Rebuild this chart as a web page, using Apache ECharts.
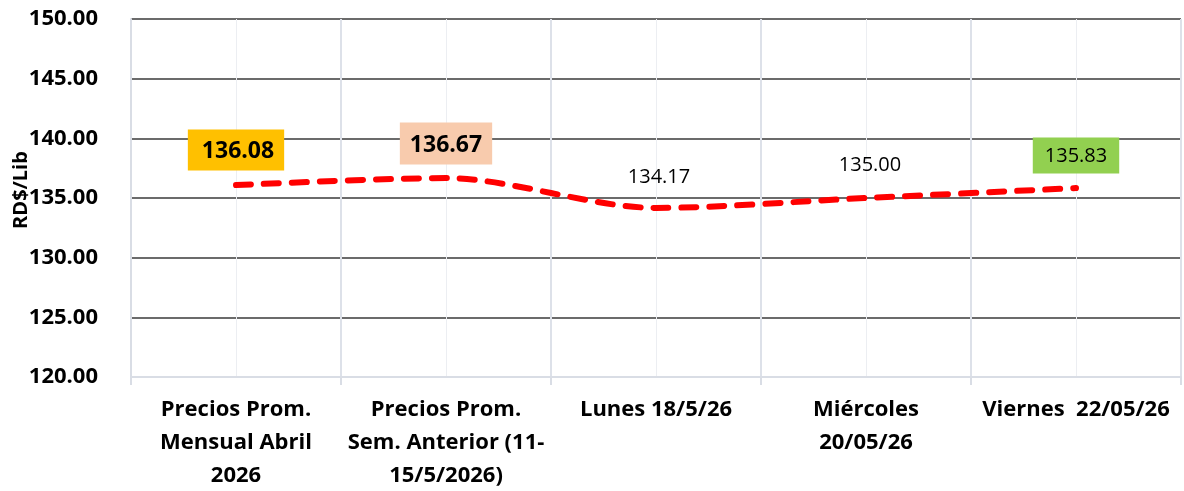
<!DOCTYPE html>
<html><head><meta charset="utf-8">
<script src="https://cdn.jsdelivr.net/npm/echarts@6/dist/echarts.min.js"></script>
<style>html,body{margin:0;padding:0;background:#fff}#c{width:1184px;height:491px}</style>
</head><body><div id="c"></div>
<script>
const categories = ["Precios Prom.\nMensual Abril\n2026", "Precios Prom.\nSem. Anterior (11-\n15/5/2026)", "Lunes 18/5/26", "Miércoles\n20/05/26", "Viernes  22/05/26"];
const prices = [136.08, 136.67, 134.17, 135.00, 135.83];
const yMin = 120, yMax = 150, yStep = 5;
const axisName = "RD$/Lib";

const FONT = '"Open Sans"';
const labelStyles = [
  {backgroundColor:'#FFC000', fontWeight:'bold', fontSize:23, padding:[10,10,8,14], distance:14},
  {backgroundColor:'#F8CBAD', fontWeight:'bold', fontSize:23, padding:[11,10,8,10], distance:13},
  {fontSize:20, distance:20, offset:[3,0]},
  {fontSize:20, distance:22, offset:[4,0]},
  {backgroundColor:'#92D050', fontSize:20, padding:[9,12,7,12], distance:14}
];

const data = prices.map((v, i) => ({
  value: v,
  label: Object.assign({show:true, position:'top', color:'#000', fontFamily:FONT}, labelStyles[i])
}));

const chart = echarts.init(document.getElementById('c'), null, {renderer:'canvas'});
chart.setOption({
  animation:false,
  backgroundColor:'#fff',
  grid:{left:131, right:3, top:19, bottom:114, containLabel:false, outerBoundsMode:'none'},
  xAxis:[{
    type:'category', data:categories, boundaryGap:true,
    axisLine:{show:true, lineStyle:{color:'#d9dde5', width:2}},
    axisTick:{show:true, length:8, lineStyle:{color:'#d9dde5', width:2}},
    splitLine:{show:true, lineStyle:{color:'#dde1e9', width:2}},
    axisLabel:{color:'#000', fontFamily:FONT, fontWeight:'bold', fontSize:22, lineHeight:33, margin:16, interval:0}
  },{
    type:'value', min:0, max:10, interval:1, show:true,
    axisLine:{show:false}, axisTick:{show:false}, axisLabel:{show:false},
    splitLine:{show:true, lineStyle:{color:['rgba(0,0,0,0)','#eceef2'], width:1}}
  }],
  yAxis:{
    type:'value', min:yMin, max:yMax, interval:yStep,
    name:axisName, nameLocation:'middle', nameGap:100, nameRotate:90, nameMoveOverlap:false,
    nameTextStyle:{color:'#000', fontFamily:FONT, fontWeight:'bold', fontSize:20, padding:[0,0,0,16]},
    axisLine:{show:true, lineStyle:{color:'#d9dde5', width:2}},
    axisTick:{show:false},
    axisLabel:{color:'#000', fontFamily:FONT, fontWeight:'bold', fontSize:22, margin:33, formatter:v=>v.toFixed(2)},
    splitLine:{show:true, lineStyle:{color:['#d9dde5','#6b6b6b','#6b6b6b','#6b6b6b','#6b6b6b','#6b6b6b','#6b6b6b'], width:2}}
  },
  series:[{
    type:'line', xAxisIndex:0, data:data, smooth:0.3,
    showSymbol:true, symbol:'circle', symbolSize:1,
    itemStyle:{color:'rgba(0,0,0,0)'},
    lineStyle:{color:'#ff0000', width:6, type:[15,13], cap:'round'},
    label:{formatter:p=>p.value.toFixed(2)},
    z:5
  }]
});
</script></body></html>
